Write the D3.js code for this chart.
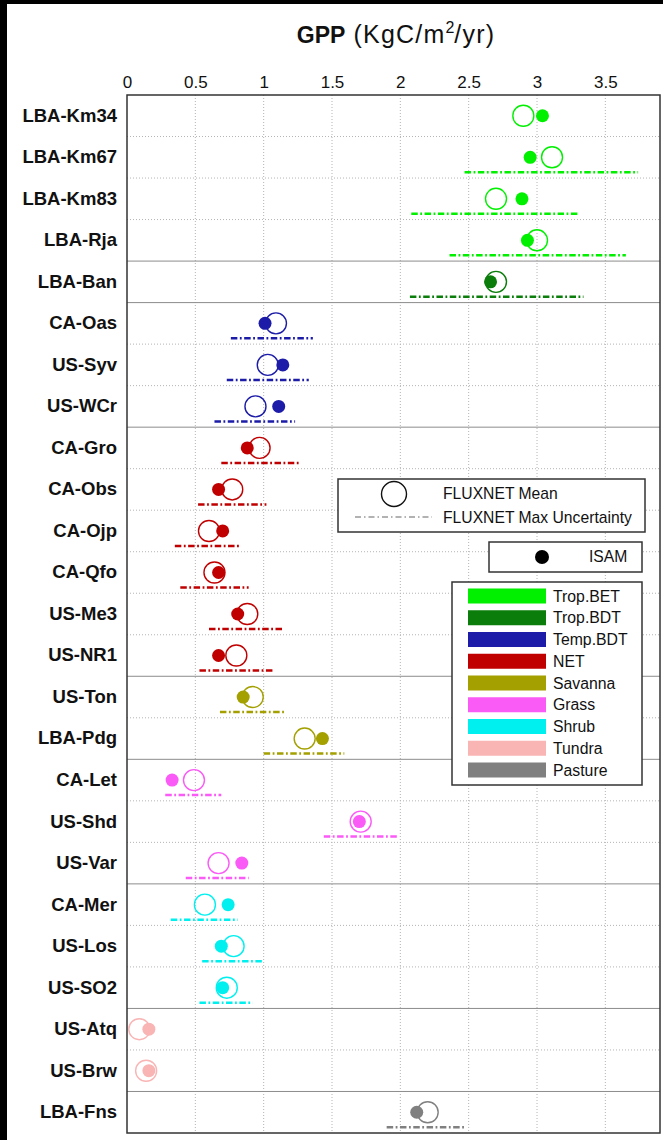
<!DOCTYPE html>
<html>
<head>
<meta charset="utf-8">
<script src="https://cdn.jsdelivr.net/npm/d3@7"></script>
<style>
  html, body { margin: 0; padding: 0; background: #fff; }
  svg { display: block; font-family: "Liberation Sans", Arial, Helvetica, sans-serif; }
</style>
</head>
<body>
<svg id="chart" width="663" height="1140"></svg>
<script>
// Flux tower sites, top to bottom
const sites = ["LBA-Km34","LBA-Km67","LBA-Km83","LBA-Rja","LBA-Ban","CA-Oas","US-Syv","US-WCr",
  "CA-Gro","CA-Obs","CA-Ojp","CA-Qfo","US-Me3","US-NR1","US-Ton","LBA-Pdg","CA-Let","US-Shd",
  "US-Var","CA-Mer","US-Los","US-SO2","US-Atq","US-Brw","LBA-Fns"];
// Plant functional type of each site
const sitePft = ["Trop.BET","Trop.BET","Trop.BET","Trop.BET","Trop.BDT","Temp.BDT","Temp.BDT","Temp.BDT",
  "NET","NET","NET","NET","NET","NET","Savanna","Savanna","Grass","Grass",
  "Grass","Shrub","Shrub","Shrub","Tundra","Tundra","Pasture"];
// FLUXNET mean GPP (KgC/m2/yr)
const fluxnetMean = [2.90,3.11,2.70,3.00,2.70,1.09,1.03,0.94,0.97,0.77,0.60,0.64,0.88,0.80,0.92,1.30,0.49,1.71,0.67,0.57,0.78,0.73,0.09,0.14,2.20];
// ISAM simulated GPP (KgC/m2/yr)
const isamGpp = [3.04,2.95,2.89,2.93,2.66,1.01,1.14,1.11,0.88,0.67,0.70,0.67,0.81,0.67,0.85,1.43,0.33,1.70,0.84,0.74,0.69,0.70,0.16,0.16,2.12];
// FLUXNET max uncertainty range (null where not available)
const uncLow  = [null,2.47,2.08,2.36,2.07,0.76,0.73,0.64,0.69,0.52,0.35,0.39,0.60,0.53,0.68,1.00,0.28,1.44,0.43,0.32,0.55,0.53,null,null,1.90];
const uncHigh = [null,3.74,3.30,3.65,3.34,1.36,1.33,1.23,1.26,1.02,0.83,0.89,1.14,1.07,1.15,1.59,0.69,1.98,0.89,0.81,1.00,0.92,null,null,2.47];
// Legend categories and colours
const pftNames  = ["Trop.BET","Trop.BDT","Temp.BDT","NET","Savanna","Grass","Shrub","Tundra","Pasture"];
const pftColors = ["#00f000","#0a7d0a","#1c1ca8","#c00000","#a3a000","#fa5af5","#00f0f0","#f9b4b4","#808080"];
// Top axis ticks
const xTicks = [0,0.5,1,1.5,2,2.5,3,3.5];

(function () {
const svg = d3.select("#chart");
const W = 663, H = 1140;
const plotL = 127, plotR = 660, plotT = 95, plotB = 1133;

svg.append("rect").attr("width", W).attr("height", H).attr("fill", "#fff");
// dark frame strips along the left and top edge
svg.append("rect").attr("x", 0).attr("y", 0).attr("width", 7).attr("height", H).attr("fill", "#000");
svg.append("rect").attr("x", 0).attr("y", 0).attr("width", W).attr("height", 4).attr("fill", "#000");

const x = d3.scaleLinear().domain([0, 3.9]).range([plotL, plotR]);
const y = d3.scaleBand().domain(sites).range([plotT, plotB]).padding(0);
const color = d3.scaleOrdinal().domain(pftNames).range(pftColors);
const bw = y.bandwidth();
const cy = s => y(s) + bw / 2;

// Vertical dotted grid
svg.append("g").selectAll("line").data(xTicks.filter(t => t > 0)).join("line")
  .attr("x1", d => x(d)).attr("x2", d => x(d))
  .attr("y1", plotT).attr("y2", plotB)
  .attr("stroke", "#b4b4b4").attr("stroke-width", 1).attr("stroke-dasharray", "1,2");

// Horizontal row separators: solid between PFT groups, dotted otherwise
const seps = sites.slice(1).map((s, i) => ({ y: y(s), group: sitePft[i] !== sitePft[i + 1] }));
svg.append("g").selectAll("line").data(seps).join("line")
  .attr("x1", plotL).attr("x2", plotR)
  .attr("y1", d => d.y).attr("y2", d => d.y)
  .attr("stroke", d => d.group ? "#8c8c8c" : "#b4b4b4")
  .attr("stroke-width", 1)
  .attr("stroke-dasharray", d => d.group ? null : "1,2");

const rows = sites.map((s, i) => ({
  site: s, pft: sitePft[i], mean: fluxnetMean[i], isam: isamGpp[i], lo: uncLow[i], hi: uncHigh[i]
}));

// Uncertainty ranges (dash-dot)
svg.append("g").selectAll("line").data(rows.filter(d => d.lo != null)).join("line")
  .attr("x1", d => x(d.lo)).attr("x2", d => x(d.hi))
  .attr("y1", d => cy(d.site) + 15).attr("y2", d => cy(d.site) + 15)
  .attr("stroke", d => color(d.pft)).attr("stroke-width", 2.5)
  .attr("stroke-dasharray", "6.5,2.5,1.8,2.5");

// FLUXNET mean (open circles)
svg.append("g").selectAll("circle").data(rows).join("circle")
  .attr("cx", d => x(d.mean)).attr("cy", d => cy(d.site)).attr("r", 10.5)
  .attr("fill", "none").attr("stroke", d => color(d.pft)).attr("stroke-width", 1.4);

// ISAM (filled dots)
svg.append("g").selectAll("circle").data(rows).join("circle")
  .attr("cx", d => x(d.isam)).attr("cy", d => cy(d.site)).attr("r", 6.5)
  .attr("fill", d => color(d.pft));

// Plot frame
svg.append("rect").attr("x", plotL).attr("y", plotT).attr("width", plotR - plotL).attr("height", plotB - plotT)
  .attr("fill", "none").attr("stroke", "#333").attr("stroke-width", 1.5);

// Top axis
const xAxis = svg.append("g").attr("transform", `translate(0,${plotT})`)
  .call(d3.axisTop(x).tickValues(xTicks).tickSize(0).tickPadding(7).tickFormat(d3.format("")));
xAxis.select(".domain").remove();
xAxis.selectAll("text").attr("font-size", 17).attr("fill", "#111").attr("font-family", null);

// Site labels
const yAxis = svg.append("g").attr("transform", `translate(${plotL},0)`)
  .call(d3.axisLeft(y).tickSize(0).tickPadding(10));
yAxis.select(".domain").remove();
yAxis.selectAll("text").attr("font-size", 18.5).attr("font-weight", "bold").attr("fill", "#111").attr("font-family", null);

// Title
const title = svg.append("text").attr("x", 396).attr("y", 43).attr("text-anchor", "middle").attr("fill", "#111");
title.append("tspan").attr("font-weight", "bold").attr("font-size", 23).text("GPP");
title.append("tspan").attr("font-size", 25).attr("letter-spacing", 1.2).text(" (KgC/m");
title.append("tspan").attr("font-size", 16).attr("dy", -10).text("2");
title.append("tspan").attr("font-size", 25).attr("letter-spacing", 1.2).attr("dy", 10).text("/yr)");

// Legend: FLUXNET
const lg1 = svg.append("g");
lg1.append("rect").attr("x", 338).attr("y", 479).attr("width", 307).attr("height", 53)
  .attr("fill", "#fff").attr("stroke", "#333").attr("stroke-width", 1.5);
lg1.append("circle").attr("cx", 394).attr("cy", 494).attr("r", 12.5)
  .attr("fill", "none").attr("stroke", "#111").attr("stroke-width", 1.4);
lg1.append("line").attr("x1", 355).attr("x2", 432).attr("y1", 517).attr("y2", 517)
  .attr("stroke", "#999").attr("stroke-width", 1.5).attr("stroke-dasharray", "6,3,1.5,3");
lg1.append("text").attr("x", 443).attr("y", 499).attr("font-size", 15.7).attr("fill", "#111").text("FLUXNET Mean");
lg1.append("text").attr("x", 443).attr("y", 523).attr("font-size", 15.7).attr("fill", "#111").text("FLUXNET Max Uncertainty");

// Legend: ISAM
const lg2 = svg.append("g");
lg2.append("rect").attr("x", 489).attr("y", 542).attr("width", 153).attr("height", 30)
  .attr("fill", "#fff").attr("stroke", "#333").attr("stroke-width", 1.5);
lg2.append("circle").attr("cx", 542).attr("cy", 557).attr("r", 7).attr("fill", "#000");
lg2.append("text").attr("x", 589).attr("y", 562).attr("font-size", 15.7).attr("fill", "#111").text("ISAM");

// Legend: PFT colours
const lg3 = svg.append("g");
lg3.append("rect").attr("x", 452).attr("y", 582).attr("width", 190).attr("height", 203)
  .attr("fill", "#fff").attr("stroke", "#333").attr("stroke-width", 1.5);
const ly = d3.scalePoint().domain(pftNames).range([596, 770]);
lg3.selectAll("rect.sw").data(pftNames).join("rect").attr("class", "sw")
  .attr("x", 468).attr("y", d => ly(d) - 7.5).attr("width", 78).attr("height", 15)
  .attr("fill", d => color(d));
lg3.selectAll("text").data(pftNames).join("text")
  .attr("x", 553).attr("y", d => ly(d) + 5.5).attr("font-size", 15.8).attr("fill", "#111").text(d => d);
})();
</script>
</body>
</html>
